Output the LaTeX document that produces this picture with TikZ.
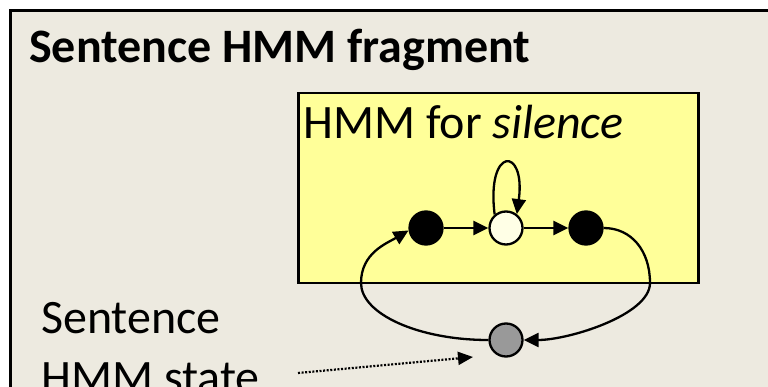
\documentclass[tikz,border=0pt]{standalone}
\usepackage{fontspec}
\setmainfont{Carlito}
\usetikzlibrary{arrows.meta}

\definecolor{panelbg}{HTML}{EDEAE0}
\definecolor{boxyellow}{HTML}{FFFF99}
\definecolor{paleyellow}{HTML}{FFFFE6}
\definecolor{stategray}{HTML}{999999}

\begin{document}
\begin{tikzpicture}[x=1pt,y=-1pt,
  bigtext/.style={font=\fontsize{48}{60}\selectfont, inner sep=0pt},
  state/.style={circle, draw=black, line width=2.3pt, minimum size=33pt, inner sep=0pt},
  edge/.style={line width=2.3pt, -{Triangle[length=15pt,width=14pt]}},
  pointer/.style={line width=2.2pt, dash pattern=on 2pt off 1.6pt,
    -{Triangle[length=15pt,width=13pt]}}]

  \useasboundingbox (0,0) rectangle (768,387);
  \fill[white] (0,0) rectangle (768,387);

  % outer panel, running past the right and bottom edges
  \begin{scope}
    \clip (0,0) rectangle (768,387);
    \draw[line width=3pt, fill=panelbg] (10,11) rectangle (800,420);
  \end{scope}

  \node[bigtext, font=\fontsize{48}{60}\selectfont\bfseries, anchor=base west]
    (title) at (29,63) {Sentence HMM fragment};

  % box holding the silence model
  \node[draw=black, line width=2.5pt, fill=boxyellow, minimum width=400pt,
    minimum height=190pt, inner sep=0pt, anchor=north west] (box) at (297,92) {};
  \node[bigtext, anchor=base west] (boxlbl) at (303,139) {HMM for \textit{silence}};

  % states
  \node[state, fill=black] (s1) at (426,228) {};
  \node[state, fill=paleyellow] (s2) at (506,228) {};
  \node[state, fill=black] (s3) at (586,228) {};
  \node[state, fill=stategray] (g) at (506,340) {};

  \draw[edge] (s1) -- (s2);
  \draw[edge] (s2) -- (s3);
  \draw[edge] (s2.130) .. controls (486,146) and (526,146) .. (s2.52);

  % loop through the sentence state
  \coordinate (rb) at (650,283);
  \coordinate (lb) at (361,283);
  \draw[edge] (s3.east) .. controls +(28,0) and +(0,-32) .. (rb)
    .. controls +(0,32) and +(45,0) .. (g.east);
  \draw[edge] (g.west) .. controls +(-70,0) and +(0,31) .. (lb)
    .. controls +(0,-30) and +(-22,13) .. (s1.188);

  % label and its pointer
  \node[bigtext, align=left, anchor=base west] (lbl) at (41,393)
    {Sentence\\HMM state};
  \coordinate (ps) at (298,373);
  \coordinate (pe) at (473,357);
  \draw[pointer] (ps) -- (pe);
\end{tikzpicture}
\end{document}
